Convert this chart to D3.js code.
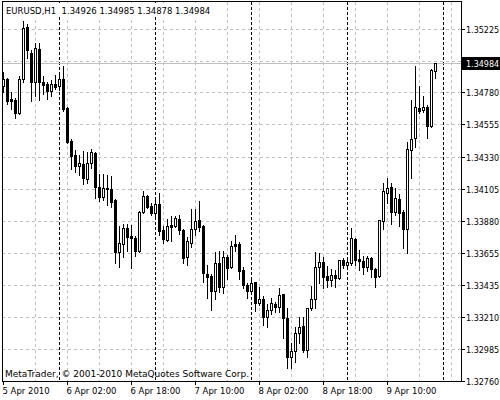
<!DOCTYPE html>
<html>
<head>
<meta charset="utf-8">
<script src="https://d3js.org/d3.v7.min.js"></script>
<style>
body { margin: 0; background: #fff; }
svg text { font-family: Tahoma, "DejaVu Sans", sans-serif; font-size: 8px; fill: #000; }
</style>
</head>
<body>
<svg id="chart" width="500" height="400"></svg>
<script>
// EURUSD H1, bar 0 = 5 Apr 2010 10:00
var opens = [1.34826,1.34875,1.34735,1.34728,1.34637,1.34875,1.35239,1.35057,1.34854,1.35085,
    1.34854,1.34840,1.34791,1.34840,1.34826,1.34875,1.34672,1.34441,1.34343,1.34266,
    1.34280,1.34175,1.34287,1.34357,1.34119,1.34049,1.34112,1.34105,1.34028,1.33664,
    1.33720,1.33832,1.33776,1.33762,1.33671,1.33944,1.34056,1.33986,1.33937,1.34000,
    1.33818,1.33748,1.33853,1.33846,1.33895,1.33818,1.33629,1.33727,1.33825,1.33888,
    1.33846,1.33510,1.33496,1.33391,1.33587,1.33419,1.33629,1.33559,1.33720,1.33720,
    1.33538,1.33433,1.33391,1.33454,1.33307,1.33335,1.33209,1.33258,1.33300,1.33279,
    1.33370,1.33202,1.32929,1.32971,1.33097,1.33146,1.32978,1.33272,1.33335,1.33559,
    1.33594,1.33496,1.33468,1.33503,1.33482,1.33608,1.33573,1.33587,1.33755,1.33615,
    1.33601,1.33559,1.33622,1.33545,1.33496,1.33881,1.34077,1.34119,1.33944,1.34035,
    1.33944,1.33825,1.34378,1.34462,1.34672,1.34658,1.34679,1.34546,1.34926];
var highs = [1.34924,1.34882,1.34784,1.34742,1.34896,1.35281,1.35260,1.35078,1.35127,1.35127,
    1.34896,1.34854,1.34868,1.34903,1.34903,1.34966,1.34679,1.34455,1.34378,1.34343,
    1.34371,1.34364,1.34385,1.34364,1.34210,1.34210,1.34203,1.34196,1.34035,1.33846,
    1.33860,1.33860,1.33853,1.33776,1.33951,1.34091,1.34063,1.34007,1.34028,1.34077,
    1.33846,1.33895,1.33916,1.33916,1.33923,1.33825,1.33769,1.33965,1.33965,1.34021,
    1.33853,1.33573,1.33510,1.33664,1.33671,1.33671,1.33643,1.33741,1.33783,1.33734,
    1.33559,1.33447,1.33468,1.33454,1.33419,1.33356,1.33300,1.33342,1.33314,1.33412,
    1.33370,1.33272,1.33027,1.33139,1.33209,1.33209,1.33272,1.33426,1.33664,1.33657,
    1.33629,1.33566,1.33545,1.33538,1.33608,1.33622,1.33622,1.33832,1.33762,1.33678,
    1.33636,1.33636,1.33629,1.33552,1.33888,1.34147,1.34182,1.34147,1.34112,1.34070,
    1.33958,1.34434,1.34728,1.34966,1.34826,1.34756,1.34693,1.34945,1.34985];
var lows = [1.34784,1.34700,1.34665,1.34602,1.34630,1.34854,1.35022,1.34721,1.34756,1.34728,
    1.34770,1.34735,1.34756,1.34805,1.34798,1.34651,1.34427,1.34245,1.34224,1.34203,
    1.34140,1.34147,1.34252,1.34042,1.34021,1.34028,1.33993,1.33979,1.33587,1.33559,
    1.33629,1.33671,1.33552,1.33636,1.33664,1.33937,1.33972,1.33923,1.33902,1.33783,
    1.33727,1.33741,1.33741,1.33839,1.33790,1.33587,1.33573,1.33699,1.33783,1.33811,
    1.33454,1.33342,1.33258,1.33335,1.33384,1.33377,1.33475,1.33552,1.33671,1.33475,
    1.33412,1.33342,1.33384,1.33251,1.33293,1.33153,1.33139,1.33230,1.33244,1.33244,
    1.33062,1.32852,1.32852,1.32894,1.33027,1.32964,1.32929,1.33258,1.33272,1.33447,
    1.33412,1.33419,1.33426,1.33419,1.33475,1.33552,1.33566,1.33573,1.33573,1.33538,
    1.33510,1.33531,1.33489,1.33419,1.33489,1.33825,1.34007,1.33860,1.33923,1.33846,
    1.33692,1.33657,1.34182,1.34399,1.34637,1.34644,1.34462,1.34539,1.34878];
var closes = [1.34875,1.34721,1.34721,1.34637,1.34875,1.35232,1.35078,1.34854,1.35092,1.34854,
    1.34833,1.34791,1.34840,1.34819,1.34875,1.34665,1.34434,1.34336,1.34266,1.34287,
    1.34182,1.34287,1.34364,1.34119,1.34049,1.34112,1.34105,1.34014,1.33664,1.33727,
    1.33832,1.33769,1.33762,1.33671,1.33944,1.34056,1.33979,1.33937,1.34000,1.33811,
    1.33755,1.33846,1.33839,1.33902,1.33818,1.33622,1.33741,1.33825,1.33881,1.33839,
    1.33517,1.33489,1.33391,1.33587,1.33419,1.33629,1.33552,1.33706,1.33706,1.33531,
    1.33433,1.33391,1.33447,1.33307,1.33335,1.33209,1.33258,1.33307,1.33279,1.33363,
    1.33202,1.32929,1.32971,1.33097,1.33139,1.32978,1.33272,1.33335,1.33559,1.33594,
    1.33489,1.33468,1.33503,1.33482,1.33608,1.33573,1.33594,1.33762,1.33608,1.33601,
    1.33559,1.33622,1.33545,1.33489,1.33888,1.34091,1.34112,1.33944,1.34042,1.33937,
    1.33825,1.34385,1.34455,1.34679,1.34651,1.34679,1.34546,1.34938,1.34984];

var priceTicks = [1.35225,1.35000,1.34780,1.34555,1.34330,1.34105,1.33880,1.33655,1.33435,1.33210,1.32985,1.32760];
var dateIdx = [0,16,32,48,64,80,96];
var dateText = ["5 Apr 2010","6 Apr 02:00","6 Apr 18:00","7 Apr 10:00","8 Apr 02:00","8 Apr 18:00","9 Apr 10:00"];
var daySeparators = [14,38,62,86,110];   // midnight bars
var bid = 1.34984;
var title = "EURUSD,H1  1.34926 1.34985 1.34878 1.34984";
var copyright = "MetaTrader, \u00a9 2001-2010 MetaQuotes Software Corp.";

var plotL = 2, plotT = 2, plotR = 461, plotB = 382;

var x = d3.scaleLinear().domain([0, 1]).range([3, 7]);       // 4px per bar
var y = d3.scaleLinear().domain([1.32760, 1.35225]).range([381, 28.6]);

var svg = d3.select("#chart").attr("shape-rendering", "crispEdges");
svg.append("rect").attr("width", 500).attr("height", 400).attr("fill", "#fff");

svg.append("clipPath").attr("id", "plot")
    .append("rect").attr("x", plotL).attr("y", plotT)
    .attr("width", plotR - plotL).attr("height", plotB - plotT);

var plot = svg.append("g").attr("clip-path", "url(#plot)");

// grid
var gridX = d3.range(8, 120, 8);
plot.selectAll(".gx").data(gridX).enter().append("line")
    .attr("x1", function (d) { return x(d) + 0.5; })
    .attr("x2", function (d) { return x(d) + 0.5; })
    .attr("y1", plotT).attr("y2", plotB)
    .attr("stroke", "#c0c0c0").attr("stroke-dasharray", "3,3");

plot.selectAll(".gy").data(priceTicks).enter().append("line")
    .attr("x1", plotL).attr("x2", plotR)
    .attr("y1", function (d) { return Math.round(y(d)) + 0.5; })
    .attr("y2", function (d) { return Math.round(y(d)) + 0.5; })
    .attr("stroke", "#c0c0c0").attr("stroke-dasharray", "3,3");

// period separators
plot.selectAll(".sep").data(daySeparators).enter().append("line")
    .attr("x1", function (d) { return x(d) + 0.5; })
    .attr("x2", function (d) { return x(d) + 0.5; })
    .attr("y1", plotT).attr("y2", plotB)
    .attr("stroke", "#000").attr("stroke-dasharray", "3,2");

// bid line
plot.append("line")
    .attr("x1", plotL).attr("x2", plotR)
    .attr("y1", Math.round(y(bid)) + 0.5).attr("y2", Math.round(y(bid)) + 0.5)
    .attr("stroke", "#c0c0c0");

// candles
var bars = d3.range(opens.length).map(function (i) {
    return {i: i, o: opens[i], h: highs[i], l: lows[i], c: closes[i]};
});

var candle = plot.selectAll(".bar").data(bars).enter().append("g");

candle.append("rect")
    .attr("x", function (d) { return x(d.i); })
    .attr("width", 1)
    .attr("y", function (d) { return Math.round(y(d.h)); })
    .attr("height", function (d) { return Math.round(y(d.l)) - Math.round(y(d.h)) + 1; })
    .attr("fill", "#000");

candle.each(function (d) {
    var g = d3.select(this);
    var t = Math.round(y(Math.max(d.o, d.c)));
    var b = Math.round(y(Math.min(d.o, d.c)));
    if (d.c < d.o) {
        g.append("rect").attr("x", x(d.i) - 1).attr("width", 3)
            .attr("y", t).attr("height", b - t + 1).attr("fill", "#000");
    } else {
        g.append("rect").attr("x", x(d.i) - 0.5).attr("width", 2)
            .attr("y", t + 0.5).attr("height", Math.max(b - t, 0))
            .attr("fill", "#fff").attr("stroke", "#000");
    }
});

// title sits on an opaque box over the grid
plot.append("rect").attr("x", 3).attr("y", 3).attr("width", 208).attr("height", 14).attr("fill", "#fff");
plot.append("text").attr("x", 6).attr("y", 14)
    .style("font-size", "8.5px").style("white-space", "pre")
    .text(title);

// frame
svg.append("rect")
    .attr("x", plotL + 0.5).attr("y", plotT - 0.5)
    .attr("width", plotR - plotL).attr("height", plotB - plotT)
    .attr("fill", "none").attr("stroke", "#000");

// price axis
svg.selectAll(".ptick").data(priceTicks).enter().append("line")
    .attr("x1", plotR + 1).attr("x2", plotR + 4)
    .attr("y1", function (d) { return Math.round(y(d)) + 0.5; })
    .attr("y2", function (d) { return Math.round(y(d)) + 0.5; })
    .attr("stroke", "#000");

svg.selectAll(".plabel")
    .data(priceTicks.filter(function (d) { return Math.abs(y(d) - y(bid)) > 8; }))
    .enter().append("text")
    .attr("x", 466)
    .attr("y", function (d) { return Math.round(y(d)) + 3.5; })
    .text(function (d) { return d.toFixed(5); });

var by = Math.round(y(bid));
svg.append("rect").attr("x", 462).attr("y", by - 6).attr("width", 38).attr("height", 13).attr("fill", "#000");
svg.append("text").attr("x", 466).attr("y", by + 3.5).style("fill", "#fff").text(bid.toFixed(5));

// time axis
svg.selectAll(".ttick").data(dateIdx).enter().append("line")
    .attr("x1", function (d) { return x(d) + 0.5; })
    .attr("x2", function (d) { return x(d) + 0.5; })
    .attr("y1", plotB).attr("y2", plotB + 3)
    .attr("stroke", "#000");

svg.selectAll(".tlabel").data(dateIdx).enter().append("text")
    .attr("x", function (d) { return x(d) - 0.5; })
    .attr("y", 394)
    .style("font-size", "8.5px")
    .text(function (d, i) { return dateText[i]; });

svg.append("text").attr("x", 5).attr("y", 377)
    .style("font-size", "9px")
    .text(copyright);
</script>
</body>
</html>
